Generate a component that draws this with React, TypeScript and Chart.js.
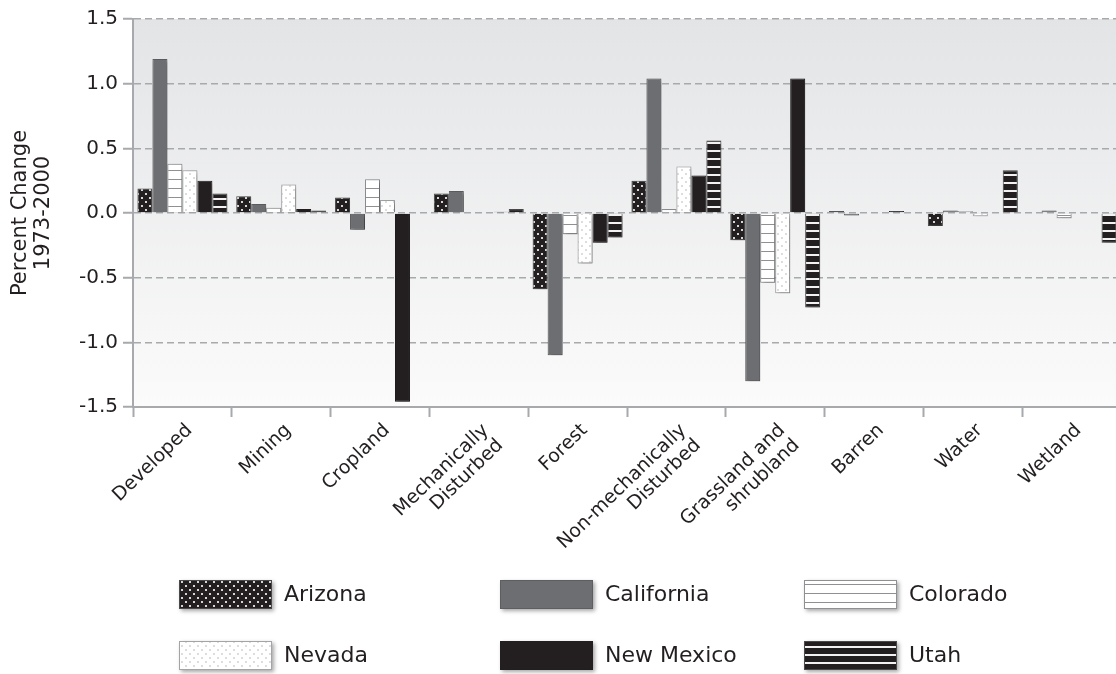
import React, { useEffect, useRef } from "react";
import { Chart, registerables } from "chart.js";

Chart.register(...registerables);

const categories: (string | string[])[] = [
  "Developed",
  "Mining",
  "Cropland",
  ["Mechanically", "Disturbed"],
  "Forest",
  ["Non-mechanically", "Disturbed"],
  ["Grassland and", "shrubland"],
  "Barren",
  "Water",
  "Wetland",
];

const seriesNames = ["Arizona", "California", "Colorado", "Nevada", "New Mexico", "Utah"];

const arizona = [0.19, 0.13, 0.12, 0.15, -0.59, 0.25, -0.21, 0.015, -0.1, 0.005];
const california = [1.19, 0.07, -0.13, 0.17, -1.1, 1.04, -1.3, -0.02, 0.02, 0.02];
const colorado = [0.38, 0.04, 0.26, 0.0, -0.165, 0.03, -0.54, 0.0, 0.015, -0.04];
const nevada = [0.33, 0.22, 0.1, 0.0, -0.39, 0.36, -0.62, 0.0, -0.025, 0.0];
const newMexico = [0.25, 0.03, -1.46, 0.01, -0.23, 0.29, 1.04, 0.015, 0.0, -0.005];
const utah = [0.15, 0.02, 0.005, 0.03, -0.19, 0.56, -0.73, 0.0, 0.33, -0.23];

const yTicks = [-1.5, -1.0, -0.5, 0.0, 0.5, 1.0, 1.5];

const FONT = "'DejaVu Sans', sans-serif";
const TEXT = "#231f20";
const AXIS = "#a7a9ac";

function tile(w: number, h: number, draw: (c: CanvasRenderingContext2D) => void) {
  const cv = document.createElement("canvas");
  cv.width = w;
  cv.height = h;
  const c = cv.getContext("2d")!;
  draw(c);
  const tmp = document.createElement("canvas").getContext("2d")!;
  return tmp.createPattern(cv, "repeat")!;
}

function makeFills() {
  const azDots = tile(8, 8, (c) => {
    c.fillStyle = "#231f20";
    c.fillRect(0, 0, 8, 8);
    c.fillStyle = "#ffffff";
    c.beginPath();
    c.arc(2, 2, 1.1, 0, Math.PI * 2);
    c.arc(6, 6, 1.1, 0, Math.PI * 2);
    c.fill();
  });
  const coLines = tile(4, 9, (c) => {
    c.fillStyle = "#ffffff";
    c.fillRect(0, 0, 4, 9);
    c.fillStyle = "#8f9093";
    c.fillRect(0, 8, 4, 1);
  });
  const nvDots = tile(8, 8, (c) => {
    c.fillStyle = "#ffffff";
    c.fillRect(0, 0, 8, 8);
    c.fillStyle = "#a3a4a6";
    c.beginPath();
    c.arc(2, 2, 0.7, 0, Math.PI * 2);
    c.arc(6, 6, 0.7, 0, Math.PI * 2);
    c.fill();
  });
  const utLines = tile(4, 8, (c) => {
    c.fillStyle = "#231f20";
    c.fillRect(0, 0, 4, 8);
    c.fillStyle = "#f2f2f2";
    c.fillRect(0, 6, 4, 2);
  });
  return [azDots, "#6d6e71", coLines, nvDots, "#231f20", utLines] as (string | CanvasPattern)[];
}

const borders = ["#4a4a4a", "#5d5e61", "#8f9093", "#a3a4a6", "#231f20", "#4a4a4a"];

export default function App() {
  const ref = useRef<HTMLCanvasElement | null>(null);

  useEffect(() => {
    const canvas = ref.current!;
    const fills = makeFills();
    const values = [arizona, california, colorado, nevada, newMexico, utah];

    const bgPlugin = {
      id: "bgGradient",
      beforeDraw(chart: any) {
        const { ctx, chartArea } = chart;
        const g = ctx.createLinearGradient(0, chartArea.top, 0, chartArea.bottom);
        g.addColorStop(0, "#e3e4e6");
        g.addColorStop(1, "#fbfbfb");
        ctx.save();
        ctx.fillStyle = g;
        ctx.fillRect(chartArea.left, chartArea.top, chartArea.right - chartArea.left, chartArea.bottom - chartArea.top);
        ctx.restore();
      },
    };

    const shadowPlugin = {
      id: "barShadow",
      beforeDatasetsDraw(chart: any) {
        const ctx = chart.ctx;
        ctx.save();
        ctx.shadowColor = "rgba(0,0,0,0.35)";
        ctx.shadowBlur = 4;
        ctx.shadowOffsetX = 2;
        ctx.shadowOffsetY = 2;
      },
      afterDatasetsDraw(chart: any) {
        chart.ctx.restore();
      },
    };

    const legendPlugin = {
      id: "gridLegend",
      afterDraw(chart: any) {
        const ctx = chart.ctx;
        const colX = [179, 500, 804];
        const rowY = [580, 641];
        const w = 93;
        const h = 29;
        seriesNames.forEach((name, i) => {
          const x = colX[i % 3];
          const y = rowY[Math.floor(i / 3)];
          ctx.save();
          ctx.shadowColor = "rgba(0,0,0,0.35)";
          ctx.shadowBlur = 4;
          ctx.shadowOffsetX = 2;
          ctx.shadowOffsetY = 2;
          ctx.fillStyle = borders[i];
          ctx.fillRect(x, y, w, h);
          ctx.restore();
          ctx.save();
          ctx.fillStyle = fills[i];
          ctx.fillRect(x + 1, y + 1, w - 2, h - 2);
          ctx.fillStyle = TEXT;
          ctx.font = `22px ${FONT}`;
          ctx.textBaseline = "middle";
          ctx.textAlign = "left";
          ctx.fillText(name, x + w + 12, y + h / 2 + 1);
          ctx.restore();
        });
      },
    };

    const chart = new Chart(canvas, {
      type: "bar",
      data: {
        labels: categories as any,
        datasets: seriesNames.map((name, i) => ({
          label: name,
          data: values[i],
          backgroundColor: fills[i] as any,
          borderColor: borders[i],
          borderWidth: 1,
          categoryPercentage: 0.91,
          barPercentage: 1.0,
        })),
      },
      options: {
        animation: false,
        responsive: false,
        devicePixelRatio: 1,
        layout: { padding: { top: 19, left: 0, right: 0, bottom: 100 } },
        plugins: {
          legend: { display: false },
          tooltip: { enabled: false },
        },
        scales: {
          x: {
            offset: true,
            grid: {
              offset: true,
              drawOnChartArea: false,
              drawTicks: true,
              tickLength: 10,
              tickColor: AXIS,
              tickWidth: 2,
            },
            border: { color: AXIS, width: 2 },
            ticks: {
              autoSkip: false,
              minRotation: 44,
              maxRotation: 44,
              padding: 3,
              labelOffset: 7,
              color: TEXT,
              font: { family: FONT, size: 19, lineHeight: 1.1 },
            },
            afterFit(scale: any) {
              scale.height = 674 - 100 - 19 - 388;
            },
          },
          y: {
            min: -1.5,
            max: 1.5,
            afterBuildTicks(scale: any) {
              scale.ticks = yTicks.map((v) => ({ value: v }));
            },
            grid: {
              color: AXIS,
              lineWidth: 1.5,
              drawTicks: true,
              tickLength: 10,
              tickColor: AXIS,
              tickWidth: 2,
            },
            border: { color: AXIS, width: 2, dash: [7, 4] },
            ticks: {
              padding: 5,
              color: TEXT,
              font: { family: FONT, size: 20 },
              callback: (v: any) => Number(v).toFixed(1),
            },
            title: {
              display: true,
              text: ["Percent Change", "1973-2000"],
              color: TEXT,
              font: { family: FONT, size: 21, lineHeight: 1.05 },
              padding: { top: 10, bottom: 0 },
            },
            afterFit(scale: any) {
              scale.width = 133;
            },
          },
        },
      },
      plugins: [bgPlugin, shadowPlugin, legendPlugin],
    });

    return () => chart.destroy();
  }, []);

  return (
    <div style={{ position: "absolute", left: 0, top: 0, width: 1116, height: 674, overflow: "hidden", background: "#fff" }}>
      <canvas ref={ref} width={1121} height={674} style={{ display: "block", width: 1121, height: 674 }} />
    </div>
  );
}
